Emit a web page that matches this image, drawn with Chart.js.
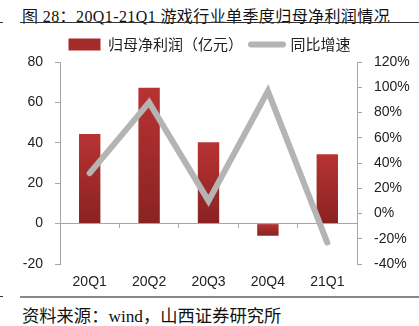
<!DOCTYPE html>
<html><head><meta charset="utf-8">
<script src="https://cdn.jsdelivr.net/npm/chart.js@4/dist/chart.umd.min.js"></script>
<style>
html,body{margin:0;padding:0;background:#fff;width:419px;height:326px;overflow:hidden;position:relative;}
#title{position:absolute;left:22px;top:3px;font:16px "Liberation Serif","Noto Sans CJK SC",serif;letter-spacing:0.4px;color:#111;white-space:nowrap;}
#src{position:absolute;left:22px;top:302px;font:17.3px "Liberation Serif","Noto Sans CJK SC",serif;color:#111;white-space:nowrap;}
.rule{position:absolute;height:1px;background:#333;}
#wrap{position:absolute;left:0;top:29px;width:419px;height:266px;}
</style></head><body>
<div id="title">图 28：20Q1-21Q1 游戏行业单季度归母净利润情况</div>
<div class="rule" style="left:20px;top:22px;width:399px;"></div>
<div class="rule" style="left:0;top:22px;width:3px;"></div>
<div class="rule" style="left:20px;top:296px;width:399px;height:2px;background:#888;"></div>
<div class="rule" style="left:0;top:296px;width:3px;"></div>
<div id="src">资料来源：wind，山西证券研究所</div>
<div id="wrap"><canvas id="c" width="419" height="266"></canvas></div>
<script>
const categories = ['20Q1','20Q2','20Q3','20Q4','21Q1'];
const netProfit = [44.3, 67.3, 40.3, -6.0, 34.3];
const yoyGrowth = [32, 88, 10, 97, -23];
const barLabel = '归母净利润（亿元）';
const lineLabel = '同比增速';

const tickFont = {family:'"Liberation Sans","Open Sans",sans-serif', size:14};
const axisGray = '#a6a6a6';

function barGradient(ctx){
  const chart = ctx.chart;
  if(!chart.chartArea || ctx.raw === undefined) return '#a52a2a';
  const y = chart.scales.y;
  const v = ctx.raw;
  const top = y.getPixelForValue(Math.max(v,0));
  const bot = y.getPixelForValue(Math.min(v,0));
  const g = chart.ctx.createLinearGradient(0, top, 0, bot + 0.01);
  g.addColorStop(0, '#b83333');
  g.addColorStop(1, '#8a2222');
  return g;
}

new Chart(document.getElementById('c'), {
  data: {
    labels: categories,
    datasets: [
      {type:'bar', label:barLabel, data:netProfit, backgroundColor:barGradient, borderWidth:0,
       categoryPercentage:1, barPercentage:0.36, yAxisID:'y', order:2, pointStyle:'rect'},
      {type:'line', label:lineLabel, data:yoyGrowth, borderColor:'#b4b4b4', backgroundColor:'#b4b4b4',
       borderWidth:6, pointRadius:0, tension:0, borderCapStyle:'round', borderJoinStyle:'miter',
       yAxisID:'y1', order:1, pointStyle:'line'}
    ]
  },
  options: {
    responsive:false, animation:false, devicePixelRatio:1,
    layout:{padding:{top:0,left:0,right:0,bottom:0}},
    plugins:{
      tooltip:{enabled:false},
      legend:{position:'top', align:'center',
        labels:{usePointStyle:true, pointStyleWidth:32, boxHeight:12, padding:8,
          font:{family:'"Noto Sans CJK SC",sans-serif', size:15}, color:'#222',
          sort:(a,b)=>a.datasetIndex-b.datasetIndex,
          generateLabels:(chart)=>{
            const items = Chart.defaults.plugins.legend.labels.generateLabels(chart);
            items.forEach(it=>{
              if(it.datasetIndex===1){it.lineWidth=6;it.lineCap='round';it.strokeStyle='#b4b4b4';}
              else {it.fillStyle='#a52a2a';it.lineWidth=0;}
            });
            return items;
          }}}
    },
    scales:{
      x:{type:'category', position:'bottom', offset:true,
        grid:{display:false, drawTicks:false}, border:{display:false},
        ticks:{font:tickFont, color:'#222', padding:10},
        afterFit:(s)=>{s.height=31;}},
      x2:{type:'category', axis:'x', position:{y:0}, offset:true,
        grid:{offset:true, drawOnChartArea:false, drawTicks:true, tickLength:4, color:axisGray},
        border:{display:true, color:axisGray, width:1},
        ticks:{display:false}},
      y:{type:'linear', position:'left', min:-20, max:80,
        ticks:{stepSize:20, font:tickFont, color:'#222', padding:12},
        grid:{drawOnChartArea:false, tickLength:5, color:axisGray},
        border:{color:axisGray, width:1},
        afterFit:(s)=>{s.width=60;}},
      y1:{type:'linear', position:'right', min:-40, max:120,
        ticks:{stepSize:20, font:tickFont, color:'#222', padding:12, callback:v=>v+'%'},
        grid:{drawOnChartArea:false, tickLength:5, color:axisGray},
        border:{color:axisGray, width:1},
        afterFit:(s)=>{s.width=62;}}
    }
  }
});
</script>
</body></html>
